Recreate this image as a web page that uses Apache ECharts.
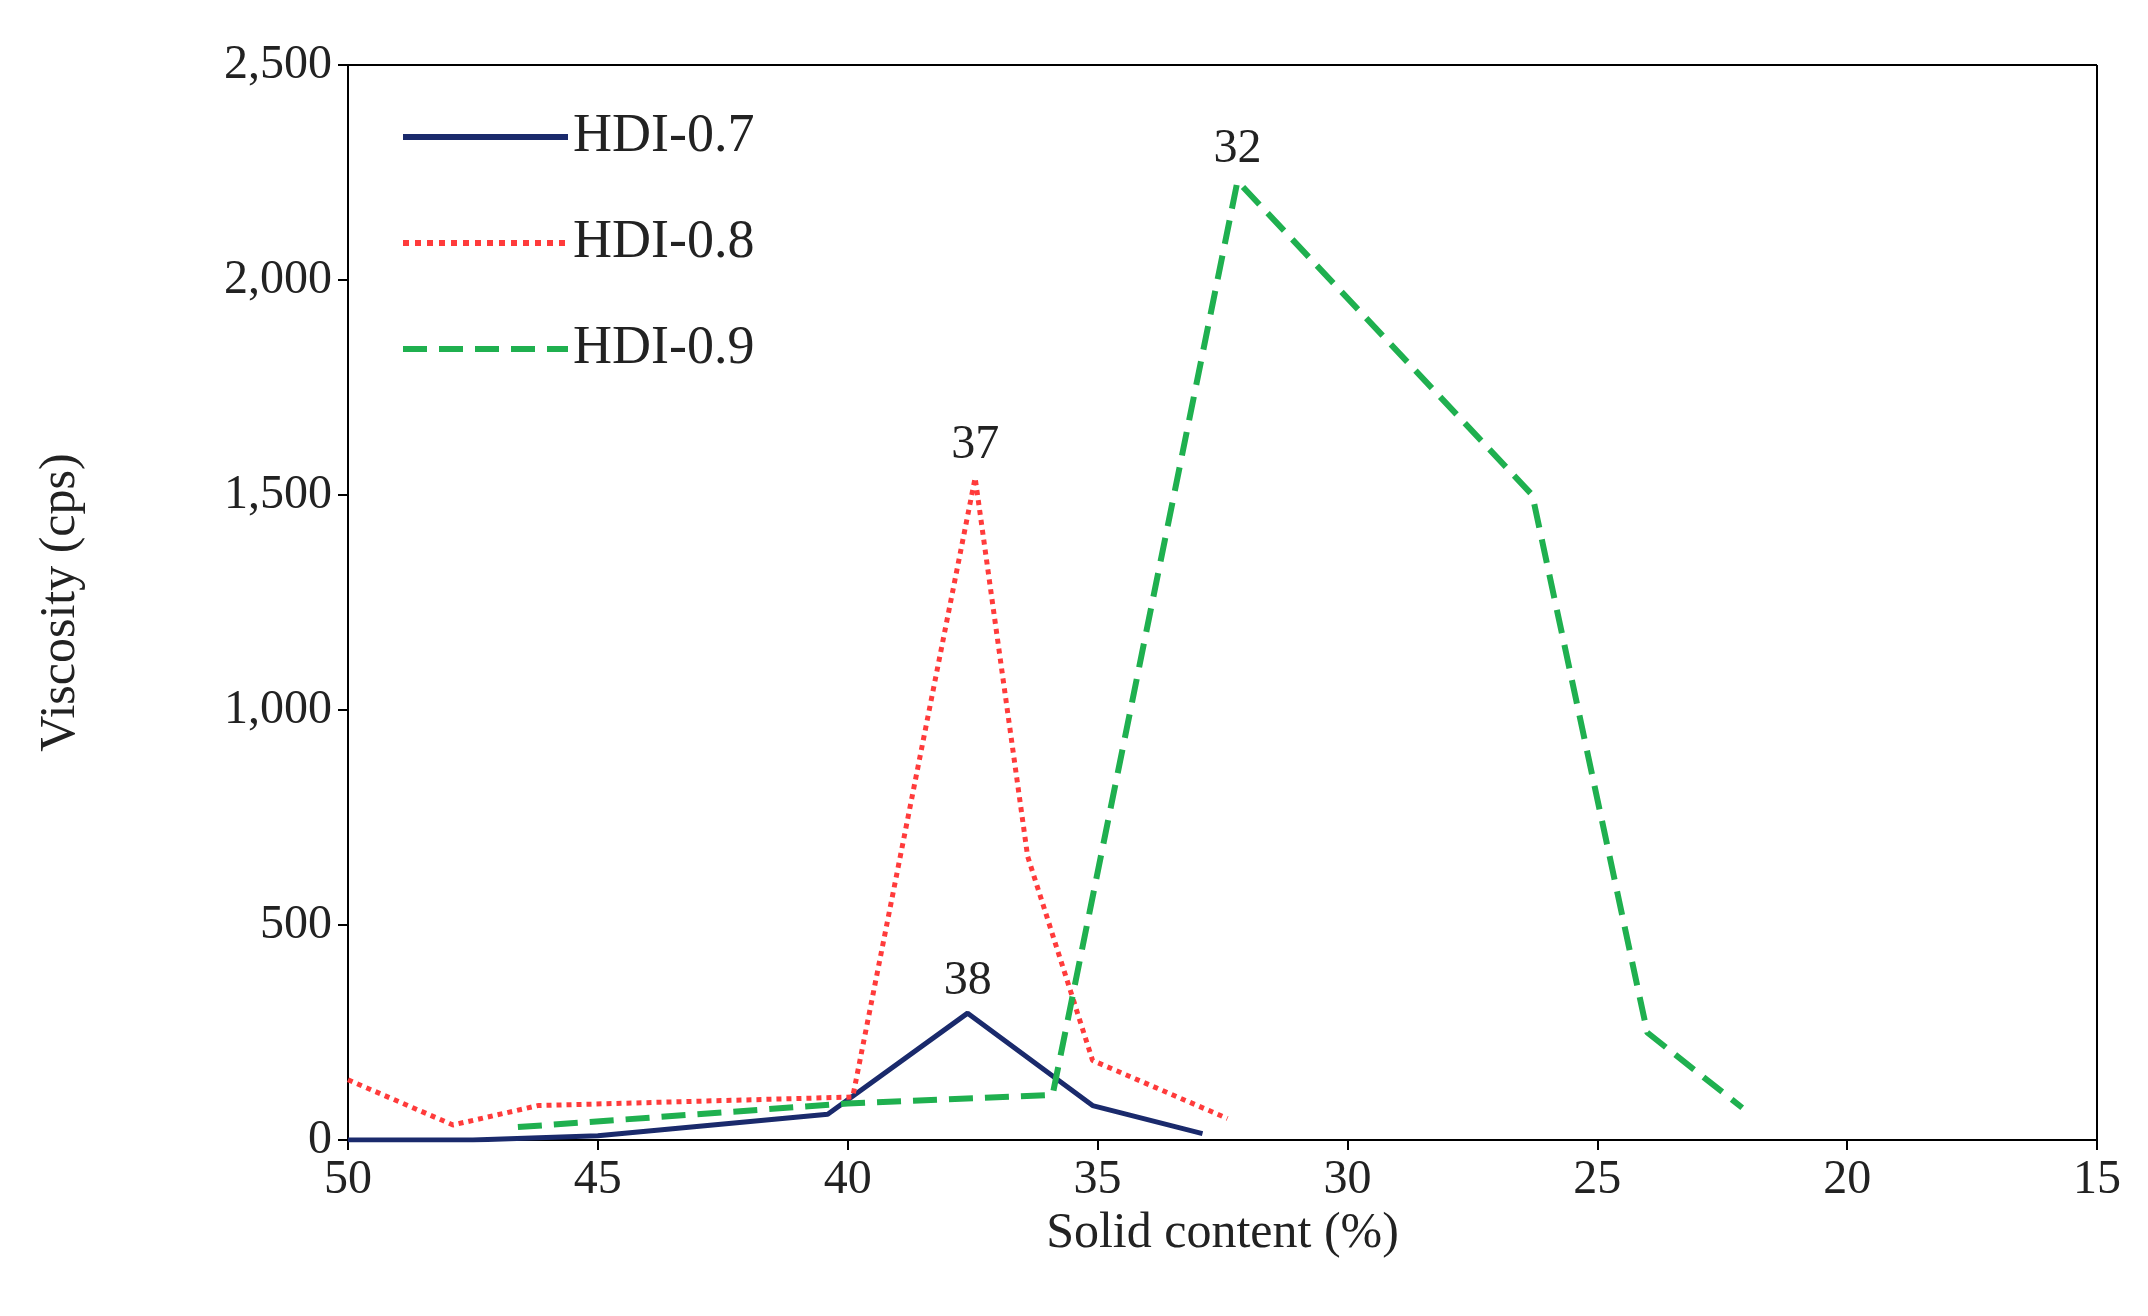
<!DOCTYPE html><html><head><meta charset="utf-8">
<script src="https://cdn.jsdelivr.net/npm/echarts@6/dist/echarts.min.js"></script>
<style>html,body{margin:0;background:#fff}#c{width:2148px;height:1316px}</style></head><body><div id="c"></div>
<script>
const hdi07 = [[50,0],[47.5,0],[45,10],[40.4,60],[37.6,295],[35.1,80],[32.9,15]];
const hdi08 = [[50,140],[47.9,35],[46.2,80],[39.9,100],[37.45,1540],[36.4,660],[35.1,185],[32.4,50]];
const hdi09 = [[46.6,30],[40,85],[35.9,105],[32.2,2230],[26.3,1500],[24.0,250],[22.1,75]];
const peakLabels = {'HDI-0.7':[37.6,295,'38'],'HDI-0.8':[37.45,1540,'37'],'HDI-0.9':[32.2,2230,'32']};
const F='Liberation Serif';
function s(name,data,color,type,w){
  const p=peakLabels[name];
  return {name,type:'line',data,symbol:'none',lineStyle:{color,type,width:w},itemStyle:{color},
    markPoint:{symbol:'circle',symbolSize:0,data:[{coord:[p[0],p[1]],value:p[2]}],
      label:{show:true,position:'top',distance:8,formatter:p[2],fontFamily:F,fontSize:48,color:'#222'}}};
}
const chart=echarts.init(document.getElementById('c'));
chart.setOption({
  animation:false,
  grid:{left:348,right:51,top:65,bottom:176},
  legend:{left:395,top:105,orient:'vertical',itemGap:52,itemWidth:165,itemHeight:20,
    itemStyle:{opacity:0},lineStyle:{width:6},
    textStyle:{fontFamily:F,fontSize:54,color:'#222'},data:['HDI-0.7','HDI-0.8','HDI-0.9']},
  xAxis:{type:'value',inverse:true,min:15,max:50,interval:5,name:'Solid content (%)',nameLocation:'middle',nameGap:60,
    nameTextStyle:{fontFamily:F,fontSize:50,color:'#222'},
    axisLine:{lineStyle:{color:'#000',width:2}},axisTick:{inside:false,length:10,lineStyle:{color:'#000',width:2}},
    axisLabel:{fontFamily:F,fontSize:48,color:'#222',margin:16},splitLine:{show:false}},
  yAxis:{type:'value',min:0,max:2500,interval:500,name:'Viscosity (cps)',nameLocation:'middle',nameGap:262,
    nameTextStyle:{fontFamily:F,fontSize:50,color:'#222'},
    axisLine:{show:true,lineStyle:{color:'#000',width:2}},axisTick:{show:true,length:10,lineStyle:{color:'#000',width:2}},
    axisLabel:{fontFamily:F,fontSize:48,color:'#222',margin:16,formatter:v=>v.toLocaleString('en-US')},splitLine:{show:false}},
  series:[s('HDI-0.7',hdi07,'#1a2a6c','solid',5),s('HDI-0.8',hdi08,'#ff3b3b','dotted',5),s('HDI-0.9',hdi09,'#1fb04f','dashed',6)],
  graphic:[{type:'line',shape:{x1:2097,y1:65,x2:2097,y2:1140},style:{stroke:'#000',lineWidth:2}},
           {type:'line',shape:{x1:348,y1:65,x2:2097,y2:65},style:{stroke:'#000',lineWidth:2}}]
});
</script></body></html>
